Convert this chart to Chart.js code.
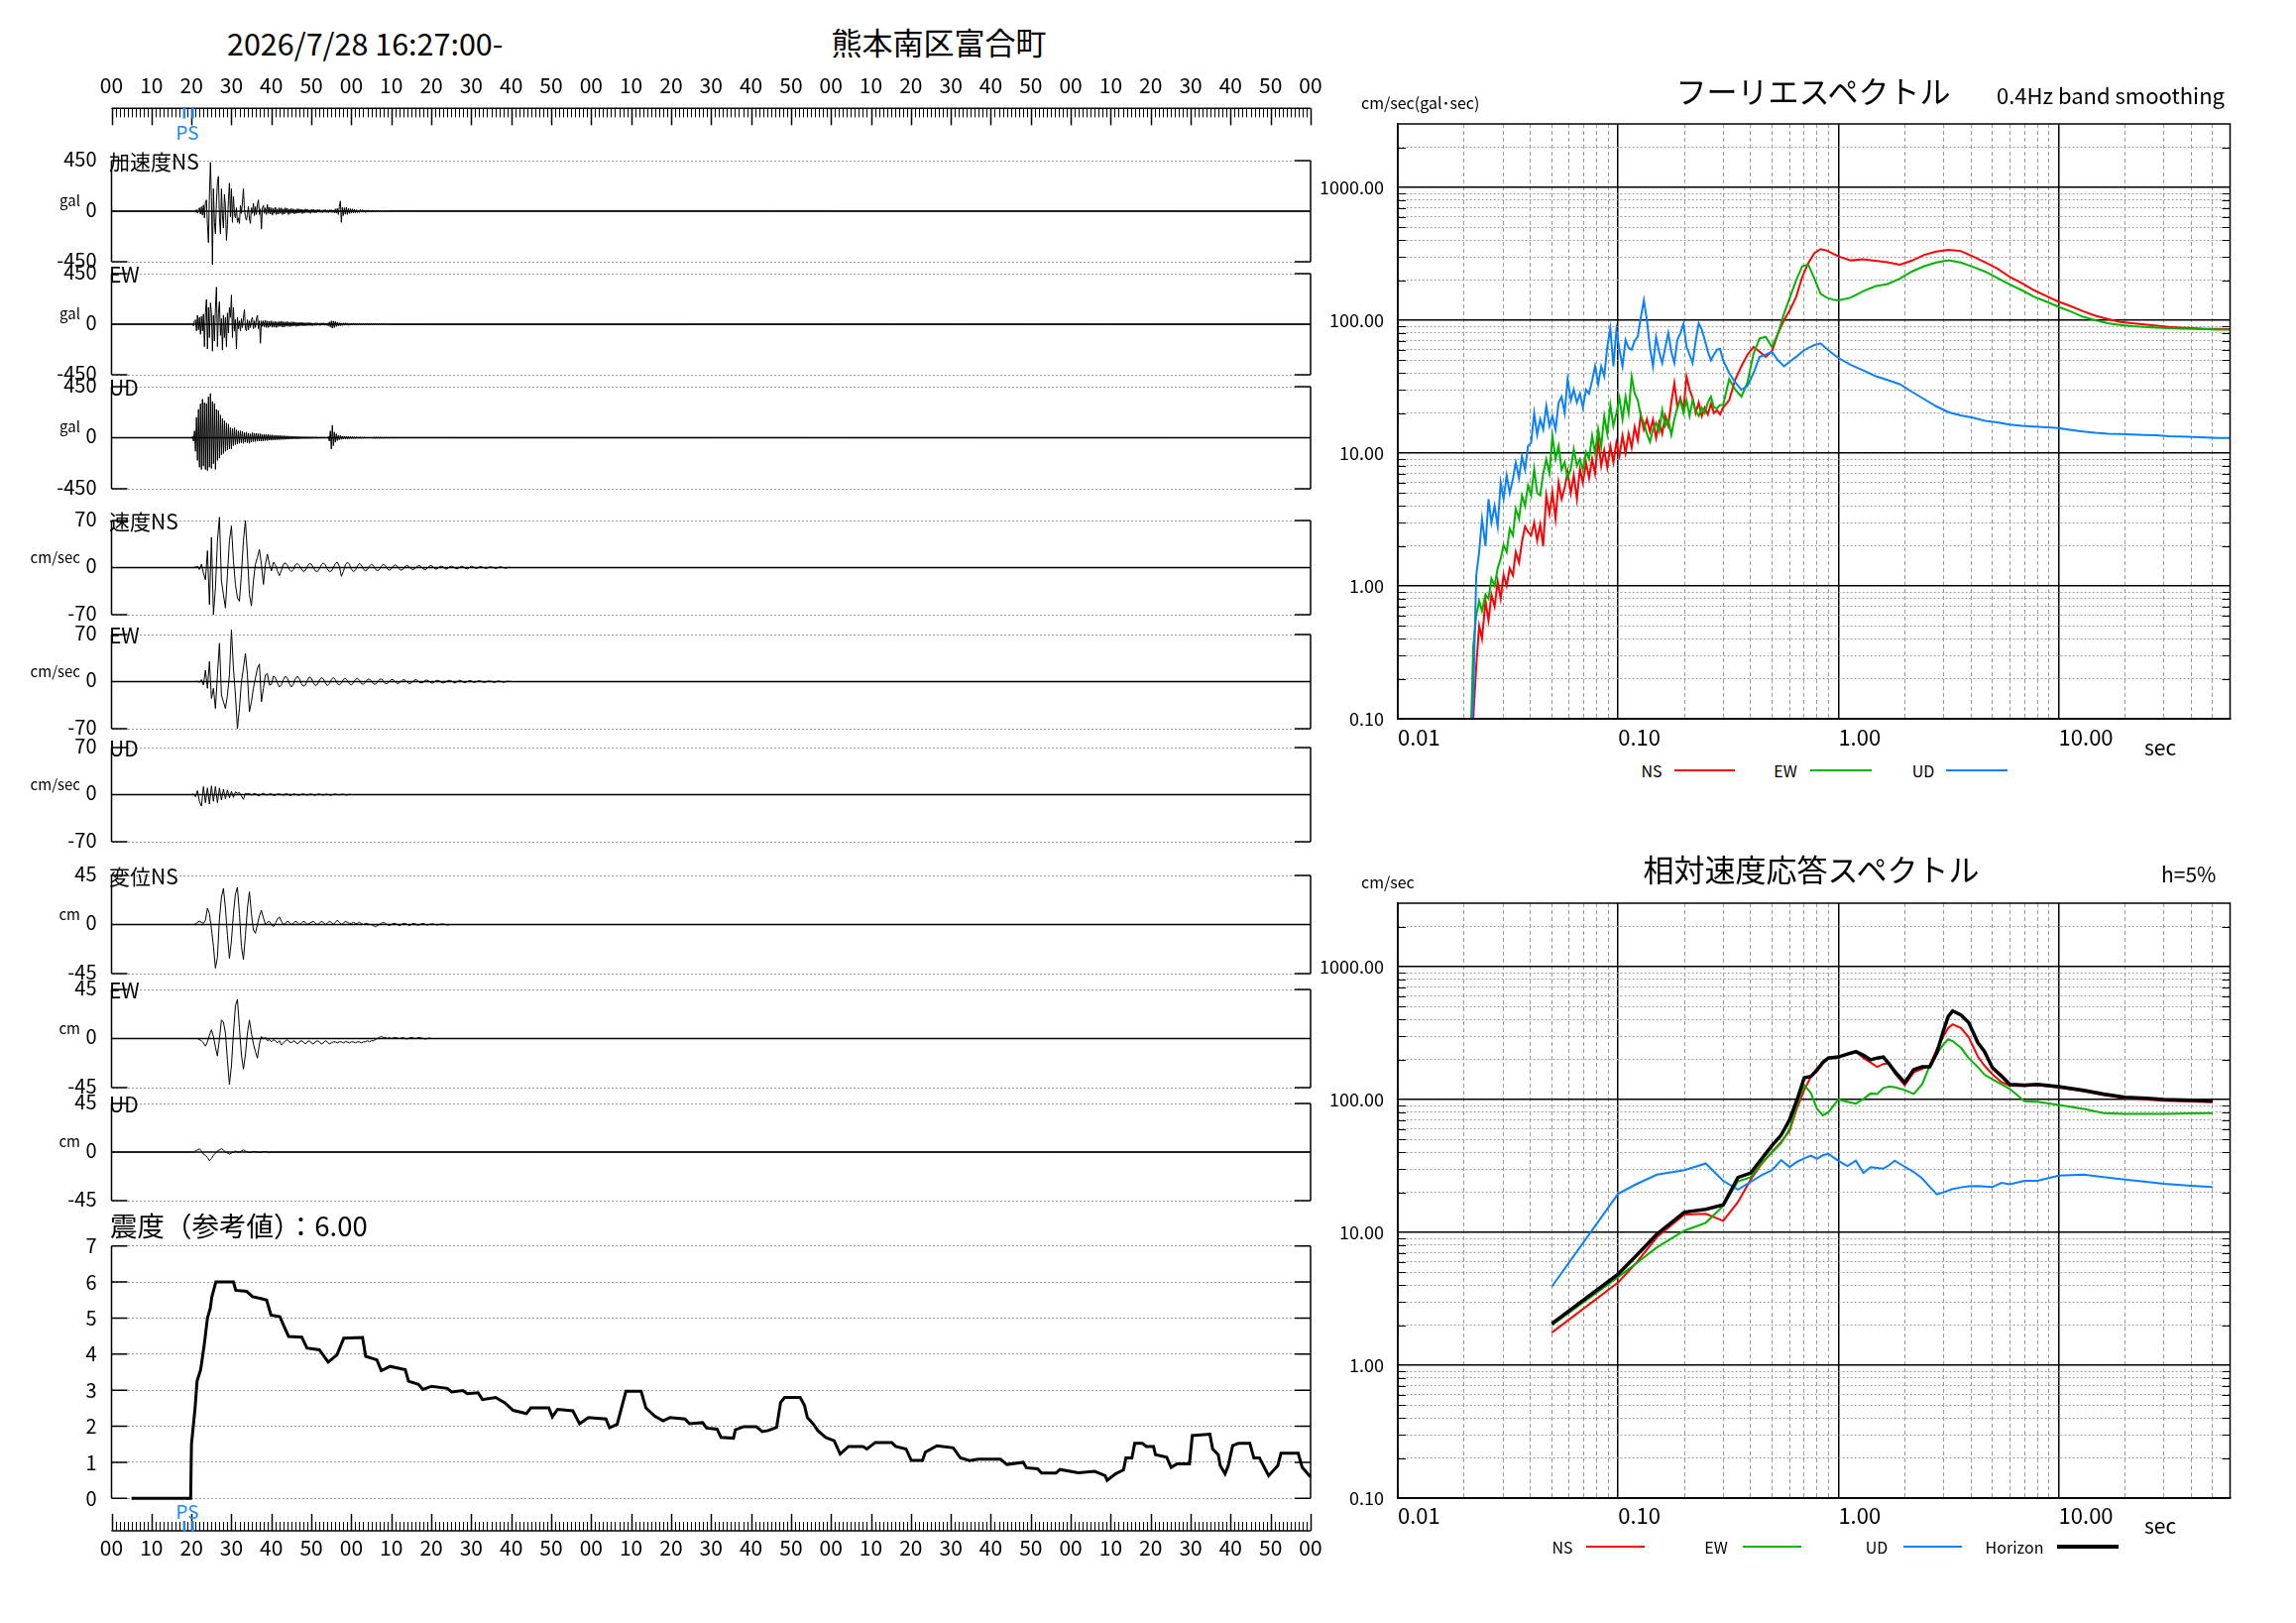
<!DOCTYPE html>
<html>
<head>
<meta charset="utf-8">
<script src="https://cdn.jsdelivr.net/npm/chart.js@4.4.1/dist/chart.umd.min.js"></script>
<style>
  html, body { margin: 0; padding: 0; background: #fff; }
  #page { position: relative; width: 2316px; height: 1637px; overflow: hidden;
          font-family: 'Noto Sans CJK JP', 'Noto Sans', sans-serif; color: #000; }
  canvas { position: absolute; }
  .t { position: absolute; white-space: nowrap; line-height: 1; }
  .key { position: absolute; }
</style>
</head>
<body>
<div id="page"></div>
<script>
// ---- waveforms (acc: every 0.25 s from 19 s, vel/disp: every 0.5 s from 20 s) ----
const accStart = 19, accStep = 0.25;
const accNS = [
  0, 2, -2, 3,  -3, 2, -4, 5,  -10, 14, -18, 12,  30, -25, 40, -35,
  55, -60, 80, 100,  -120, -280, 150, 435,  120, -475, 200, -100,  -200, 80, 260, 310,
  -60, -200, 200, -40,  -150, 150, 40, -260,  -120, 100, 250, -50,  200, -100, 130, -20,
  -60, 30, -100, -60,  -110, 50, -20, 80,  200, 20, -50, -80,  -30, 40, -70, -110,
  30, -20, 70, -40,  40, -30, 60, 100,  -30, 20, -160, 30,  50, -20, 30, -30,
  60, -20, 35, -25,  30, -35, 25, -20,  35, -30, 20, -25,  30, -20, 28, -30,
  20, -25, 30, -15,  25, -30, 18, -22,  24, -18, 20, -25,  15, -20, 22, -18,
  20, -15, 18, -22,  15, -18, 20, -12,  18, -15, 12, -20,  15, -12, 18, -15,
  12, -15, 14, -10,  15, -12, 10, -14,  12, -10, 15, -12,  10, -14, 12, -10,
  14, -12, 10, -15,  20, -18, 25, -30,  40, 90, -100, 35,  -40, 30, -25, 35,
  -30, 25, -20, 22,  -18, 20, -15, 18,  -15, 12, -14, 10,  -12, 14, -10, 12,
  -10, 8, -12, 10,  -8, 10, -9, 7,  -8, 6, -7, 8,  -6, 7, -5, 6,
  -6, 5, -6, 4,  -4, 5, -4, 3,  -3, 4, -3, 2
];
const accEW = [
  0, 2, -2, 3,  -3, 5, -15, 30,  40, -60, 80, -50,  60, -90, 70, -60,
  90, -200, 100, 220,  -220, 150, -120, 190,  100, -240, 80, -150,  150, 330, -200, 100,
  200, -100, 50, -230,  80, -120, 60, -200,  100, -80, 150, 60,  260, -120, 150, -60,
  40, -220, 60, -40,  30, -60, 50, -30,  60, 130, -40, -60,  40, -50, 30, -30,
  40, 60, -40, 30,  -30, 50, 80, -40,  30, -170, 30, -20,  30, -25, 35, -30,
  28, -30, 25, -20,  30, -28, 22, -25,  26, -30, 20, -22,  25, -20, 28, -26,
  22, -25, 20, -18,  24, -20, 18, -22,  20, -18, 22, -16,  18, -20, 15, -18,
  16, -14, 18, -15,  15, -16, 12, -14,  14, -12, 15, -13,  12, -14, 10, -12,
  13, -11, 12, -10,  10, -12, 11, -9,  12, -10, 9, -11,  10, -15, 20, -25,
  30, -35, 28, -30,  25, -20, 18, -15,  12, -14, 10, -12,  11, -10, 12, -9,
  10, -11, 8, -10,  9, -8, 10, -7,  8, -9, 7, -8,  7, -8, 6, -7,
  6, -7, 6, -5,  6, -5, 7, -5,  5, -6, 4, -5,  5, -4, 5, -4,
  4, -5, 3, -4,  4, -3, 4, -3,  3, -3, 2, -2
];
const accUD = [
  0, 2, -2, 3,  -5, 10, -30, 60,  -120, 180, -200, 250,  -260, 300, -280, 340,
  -250, 310, -280, 300,  -290, 360, -260, 390,  -270, 320, -230, 300,  -280, 250, -200, 240,
  -180, 200, -150, 170,  -140, 150, -120, 130,  -110, 120, -100, 90,  -100, 80, -70, 90,
  -60, 70, -55, 60,  -50, 60, -45, 55,  -50, 45, -40, 50,  -45, 40, -50, 35,
  -40, 45, -35, 40,  -35, 40, -30, 35,  -30, 35, -30, 28,  -28, 30, -25, 28,
  -25, 28, -22, 25,  -22, 25, -20, 22,  -20, 22, -18, 20,  -18, 20, -16, 18,
  -16, 18, -15, 16,  -14, 15, -12, 14,  -12, 14, -10, 12,  -10, 12, -10, 10,
  -9, 10, -8, 9,  -8, 9, -8, 8,  -7, 8, -7, 8,  -7, 8, -6, 7,
  -6, 7, -6, 6,  -6, 6, -5, 6,  -5, 6, -5, 5,  -5, 10, -30, 60,
  -100, 110, -70, 50,  -40, 35, -25, 20,  -18, 20, -15, 14,  -12, 14, -10, 12,
  -10, 12, -9, 10,  -8, 9, -7, 8,  -7, 8, -6, 7,  -6, 7, -6, 6,
  -5, 6, -5, 5,  -5, 5, -4, 5,  -4, 5, -4, 4,  -4, 4, -3, 4,
  -3, 4, -3, 3,  -3, 3, -2, 3,  -2, 2, -2, 1
];

const motionStart = 20, motionStep = 0.5;
const velNS = [
  0, 0, 0.5, 2, -3, 5, -8, -18, 25, -55,
  45, -70, -30, 40, 75, -20, -40, -60, -10, 40,
  62, 10, -25, -45, -50, -10, 40, 70, 20, -40,
  -57, -20, 5, 15, 27, 5, -25, 5, 20, 5,
  -5, 8, 4, -5, -12, -4, 5, 7, 3, -3,
  -6, -3, 4, 6, 3, -2, -6, -4, 2, 6,
  5, 0, -5, -6, -2, 4, 7, 4, -2, -6,
  -5, 0, 6, 8, 2, -13, -6, 4, 8, 5,
  -2, -6, -4, 2, 6, 4, -2, -5, -3, 2,
  5, 3, -2, -5, -3, 2, 5, 3, -2, -4,
  -2, 2, 4, 2, -2, -4, -2, 2, 3, 1,
  -2, -3, -1, 2, 3, 1, -2, -3, -1, 2,
  3, 1, -2, -2, 1, 2, 1, -2, -2, 1,
  2, 1, -1, -2, 0, 2, 1, -1, -2, 0,
  2, 1, -1, -1, 1, 1.5, 0, -1, -1, 1,
  1, 0, -1, -1, 1, 1, 0, -1, -0.5, 0.5,
  0
];
const velEW = [
  0, 0, 0, 0.5, -1, 3, -5, 17, -10, 30,
  -25, -10, -40, 10, 57, -20, -30, -40, -20, 10,
  77, 20, -20, -70, -40, 0, 20, 42, 10, -45,
  -30, -10, 5, 20, 26, -30, -10, 10, 12, -5,
  -4, 8, 6, -2, -8, -5, 3, 8, 5, -3,
  -8, -4, 4, 8, 4, -3, -7, -5, 2, 7,
  5, -2, -6, -4, 2, 6, 4, -2, -6, -3,
  3, 6, 3, -3, -5, -2, 3, 5, 2, -3,
  -5, -2, 3, 5, 2, -3, -4, -1, 3, 4,
  1, -3, -4, -1, 3, 4, 1, -3, -3, 0,
  3, 3, 0, -3, -2, 1, 3, 2, -1, -3,
  -2, 1, 3, 2, -1, -2, -1, 2, 2, 0,
  -2, -2, 1, 2, 1, -1, -2, -1, 1, 2,
  1, -1, -2, 0, 2, 1, -1, -1.5, 0, 1.5,
  1, -1, -1, 0.5, 1.5, 0.5, -1, -1, 0.5, 1,
  0.5, -1, -1, 0.5, 1, 0, -1, -0.5, 0.5, 0.5,
  0
];
const velUD = [
  0, 1, -3, 6, -10, -17, 12, -12, 10, -14,
  13, -10, 12, -12, 10, -8, 8, -6, 7, -5,
  5, -4, 4, 2, 3, -2, -7, 2, 1, 2,
  -1, 1, 2, -1, -2, 1, 2, 0, -1, 1,
  1, -1, -1, 1, 1, 0, -1, 1, 1, -1,
  -1, 1, 0.5, -0.5, -1, 0.5, 1, 0, -1, 0.5,
  1, -0.5, -1, 0.5, 1, 0, -1, 0.5, 0.5, -0.5,
  -1, 0.5, 1, 0, -0.5, 0.5, 0.5, -0.5, -0.5, 0.5,
  0
];
const dispNS = [
  0, 0, 0.5, 2, 3, 2, 1, 4, 15, 10,
  -4, -20, -40, -30, 5, 25, 33, 15, -10, -31,
  -15, 10, 28, 34, 10, -20, -32, -10, 15, 30,
  10, -5, -8, 0, 8, 13, 6, 0, 2, 3,
  0, -2, 1, 5, 7, 3, 0, 1, 3, 2,
  0, 1, 3, 2, 0, 1, 3, 2, 0, 1,
  2, 3, 1, 0, 1, 3, 2, 0, 1, 3,
  2, 0, 2, 4, 2, 0, 1, 3, 2, 1,
  1, 2, 1, 1, 2, 1, 0, 1, 1, 0,
  0, -1, -2, -1, 0, 1, 2, 1, 0, -1,
  0, 1, 1, 0, -1, 0, 1, 1, 0, -1,
  0, 1, 0.5, -0.5, -0.5, 0.5, 1, 0, -0.5, 0,
  0.5, 0.5, 0, -0.5, 0, 0.5, 0.5, 0, -0.5, 0,
  0
];
const dispEW = [
  0, 0, 0, 0, -1, -2, -4, -7, -3, 3,
  8, 2, -8, -16, 0, 17, 15, 5, -20, -42,
  -25, 5, 30, 36, 10, -15, -28, -15, 5, 17,
  5, -5, -12, -18, -5, 2, 0, 1, -2, -1,
  -3, -1, -2, -4, -2, -6, -4, -2, -1, -3,
  -4, -2, -3, -5, -3, -2, -3, -5, -3, -2,
  -4, -5, -3, -2, -3, -5, -4, -2, -3, -5,
  -4, -3, -3, -4, -3, -3, -4, -3, -3, -4,
  -3, -3, -4, -3, -3, -4, -3, -3, -2, -3,
  -2, -2, -1, 0, 1, 2, 1, 1, 0, 1,
  0, 0.5, 1, 0.5, 0, 0.5, 1, 0, -0.5, 0.5,
  1, 0.5, 0, 0.5, 1, 0.5, 0, -0.5, 0, 0.5,
  0
];
const dispUD = [
  0, 0, 1, 2, 3, 1, -2, -3, -5, -8,
  -6, -3, -1, 1, 2, 3, 2, 0, -1, -2,
  -1, 0, 1, 0, 0, 1, 2, 1, 0, -0.5,
  0, 0.5, 0.5, 0, -0.5, 0, 0.5, 0.5, 0, -0.5,
  0
];
const psTimes = [18.2, 20.3];

// ---- seismic intensity (reference value) over time ----
const intTime = [
  5, 19.8, 20.0, 20.9, 21.4, 22.3, 23.2, 24.0, 24.7, 25.1,
  26.1, 30.5, 31.1, 33.8, 35.3, 37.1, 38.8, 39.9, 42.1, 43.2,
  44.3, 47.6, 48.9, 52.0, 54.2, 56.4, 58.1, 62.8, 63.6, 66.4,
  67.5, 69.7, 73.5, 74.3, 76.8, 77.9, 80.1, 84.0, 85.1, 87.9,
  89.0, 91.7, 92.8, 96.1, 98.4, 100.5, 103.8, 104.9, 109.4, 110.3,
  111.6, 115.4, 117.1, 119.3, 123.7, 124.6, 126.5, 128.7, 132.5, 133.7,
  135.9, 138.0, 139.7, 143.5, 144.6, 147.9, 148.9, 151.5, 152.5, 155.6,
  156.1, 158.2, 161.3, 162.8, 164.3, 166.4, 167.4, 168.4, 172.3, 173.4,
  174.1, 175.6, 176.7, 178.7, 180.8, 182.3, 184.4, 188.0, 189.0, 191.1,
  195.2, 196.2, 198.8, 200.1, 202.9, 203.6, 206.5, 210.6, 212.4, 214.7,
  216.8, 222.4, 224.0, 228.1, 228.9, 231.7, 232.7, 236.3, 237.3, 241.9,
  246.0, 248.6, 249.1, 251.2, 253.2, 253.8, 255.3, 256.0, 257.9, 258.9,
  260.7, 261.2, 264.0, 265.1, 266.6, 269.7, 270.4, 274.8, 275.5, 276.9,
  277.4, 278.6, 279.4, 280.5, 282.0, 284.8, 285.8, 287.2, 289.5, 291.8,
  292.6, 296.9, 297.9, 300
];
const intValue = [
  0, 0, 1.5, 2.5, 3.25, 3.57, 4.26, 5.0, 5.27, 5.59,
  6.0, 6.0, 5.77, 5.74, 5.59, 5.55, 5.5, 5.08, 5.04, 4.76,
  4.49, 4.47, 4.17, 4.12, 3.78, 3.98, 4.44, 4.46, 3.94, 3.84,
  3.54, 3.66, 3.57, 3.25, 3.16, 3.02, 3.11, 3.05, 2.95, 2.99,
  2.9, 2.93, 2.74, 2.8, 2.65, 2.44, 2.35, 2.51, 2.51, 2.26,
  2.47, 2.43, 2.07, 2.24, 2.2, 1.96, 2.05, 2.97, 2.97, 2.51,
  2.28, 2.15, 2.24, 2.2, 2.07, 2.1, 1.95, 1.92, 1.69, 1.67,
  1.9, 1.99, 1.99, 1.85, 1.88, 1.97, 2.66, 2.8, 2.8, 2.57,
  2.24, 2.06, 1.88, 1.69, 1.6, 1.23, 1.44, 1.44, 1.37, 1.55,
  1.55, 1.44, 1.37, 1.05, 1.05, 1.28, 1.46, 1.4, 1.12, 1.05,
  1.09, 1.09, 0.94, 1.0, 0.85, 0.82, 0.7, 0.7, 0.8, 0.71,
  0.75, 0.63, 0.5, 0.68, 0.79, 1.12, 1.12, 1.53, 1.53, 1.44,
  1.44, 1.21, 1.14, 0.86, 0.96, 0.96, 1.74, 1.78, 1.37, 1.21,
  0.91, 0.68, 0.91, 1.46, 1.53, 1.53, 1.12, 1.12, 0.63, 0.91,
  1.25, 1.25, 0.86, 0.59
];

// ---- Fourier spectrum (period sec, cm/sec) ----
const fsPeriod = [
  0.0213, 0.0220, 0.0227, 0.0234, 0.0241, 0.0250, 0.0258, 0.0266, 0.0275, 0.0284,
  0.0293, 0.0302, 0.0312, 0.0322, 0.0333, 0.0343, 0.0355, 0.0366, 0.0378, 0.0390,
  0.0403, 0.0416, 0.0429, 0.0443, 0.0457, 0.0472, 0.0488, 0.0503, 0.0520, 0.0537,
  0.0554, 0.0572, 0.0590, 0.0610, 0.0629, 0.0650, 0.0671, 0.0692, 0.0715, 0.0738,
  0.0762, 0.0786, 0.0812, 0.0838, 0.0865, 0.0893, 0.0922, 0.0952, 0.0982, 0.1014,
  0.1047, 0.1081, 0.1116, 0.1152, 0.1189, 0.1228, 0.1268, 0.1309, 0.1351, 0.1395,
  0.1440, 0.1487, 0.1535, 0.1585, 0.1636, 0.1689, 0.1744, 0.1800, 0.1858, 0.1918,
  0.1980, 0.2045, 0.2111, 0.2179, 0.2250, 0.2322, 0.2397, 0.2475, 0.2555, 0.2638,
  0.2723, 0.2811, 0.2902, 0.2996, 0.3193, 0.3403, 0.3627, 0.3865, 0.4119, 0.4390,
  0.4679, 0.4987, 0.5314, 0.5664, 0.6036, 0.6433, 0.6856, 0.7306, 0.7787, 0.8298,
  0.8844, 0.9425, 1.00, 1.14, 1.29, 1.47, 1.67, 1.90, 2.15, 2.45,
  2.78, 3.16, 3.59, 4.08, 4.64, 5.27, 5.99, 6.81, 7.74, 8.80,
  10.0, 11.4, 12.9, 14.7, 16.7, 19.0, 21.5, 24.5, 27.8, 31.6,
  35.9, 40.8, 46.4, 52.7, 60.0
];
const fsNS = [
  0.05, 0.1, 0.25, 0.5, 0.4, 0.77, 0.55, 0.86, 0.7, 1.08,
  0.8, 1.21, 1.0, 1.36, 1.2, 1.8, 1.5, 2.15, 2.8, 2.55,
  2.4, 3.0, 2.2, 2.9, 2.0, 4.8, 3.5, 5.1, 3.2, 6.0,
  4.5, 5.5, 7.2, 5.0, 6.8, 4.5, 7.6, 6.0, 8.5, 6.5,
  9.0, 7.0, 12.7, 8.0, 10.5, 7.8, 11.3, 8.5, 12.0, 9.5,
  13.5, 10.0, 14.0, 11.0, 15.7, 12.5, 19.5, 15.0, 18.0, 14.5,
  17.8, 13.0, 17.0, 14.0, 19.0, 16.0, 24.0, 33.6, 22.0, 26.0,
  21.0, 37.6, 30.0, 26.0, 20.0, 24.0, 19.0, 22.0, 19.5, 23.5,
  20.0, 21.0, 19.5, 22.0, 25.0, 35.8, 45.0, 55.0, 63.0, 58.0,
  53.0, 58.0, 79.0, 100, 120, 150, 212, 270, 320, 343,
  335, 318, 302, 282, 287, 280, 273, 262, 280, 310,
  328, 339, 332, 302, 272, 245, 212, 190, 168, 152,
  138, 127, 117, 108, 102, 97, 95, 93, 91, 89,
  88, 87, 86, 86, 85.5
];
const fsEW = [
  0.05, 0.35, 0.6, 0.77, 0.65, 0.86, 0.8, 1.14, 1.0, 1.36,
  1.6, 2.03, 1.8, 2.7, 2.4, 3.8, 3.2, 4.8, 4.0, 5.7,
  4.8, 7.6, 5.0, 4.8, 7.0, 9.0, 7.0, 13.5, 9.0, 11.3,
  7.5, 8.5, 6.5, 7.6, 10.7, 8.0, 9.0, 7.5, 10.2, 9.0,
  13.5, 10.0, 15.1, 11.2, 19.0, 14.0, 23.0, 16.0, 20.0, 26.0,
  18.0, 26.6, 20.0, 37.6, 28.0, 25.0, 19.0, 16.9, 14.0, 12.1,
  15.0, 16.9, 14.5, 21.0, 16.0, 17.8, 13.7, 18.0, 22.0, 25.0,
  20.0, 25.0, 19.0, 25.0, 21.0, 19.0, 22.0, 20.0, 24.0, 26.6,
  22.0, 21.7, 23.0, 23.0, 36.0, 30.0, 26.6, 34.0, 56.0, 73.0,
  75.0, 63.0, 79.0, 112, 150, 200, 255, 262, 205, 158,
  148, 143, 141, 148, 165, 180, 187, 205, 232, 255,
  272, 283, 272, 252, 232, 208, 186, 168, 150, 138,
  126, 116, 106, 100, 95, 92, 90, 89, 88, 87,
  86.5, 86, 85.5, 85, 85
];
const fsUD = [
  0.05, 0.15, 1.2, 1.8, 3.2, 2.0, 4.5, 3.0, 4.0, 2.8,
  6.0, 4.5, 6.8, 5.0, 6.4, 8.5, 6.5, 9.5, 7.5, 11.3,
  12.0, 20.0, 13.7, 18.0, 15.0, 22.6, 16.0, 19.0, 15.0, 24.0,
  26.6, 20.0, 36.0, 25.0, 30.0, 24.0, 28.0, 22.0, 30.0, 28.0,
  35.0, 45.0, 33.0, 45.0, 38.0, 63.0, 86.5, 45.0, 84.0, 60.0,
  45.0, 71.0, 62.0, 60.0, 70.0, 75.0, 105, 141, 100, 62.0,
  45.0, 75.0, 58.0, 47.6, 62.0, 80.0, 58.0, 47.6, 71.0, 80.0,
  94.0, 63.0, 55.0, 47.6, 70.0, 95.0, 85.0, 71.0, 58.0, 50.0,
  55.0, 60.0, 61.0, 50.0, 40.0, 34.0, 30.0, 32.0, 40.0, 53.0,
  55.0, 58.0, 50.0, 45.0, 49.0, 53.0, 58.0, 62.0, 65.0, 67.0,
  61.0, 56.0, 52.0, 46.0, 42.0, 38.0, 35.5, 33.0, 29.0, 25.5,
  22.5, 20.3, 19.2, 18.5, 17.5, 17.0, 16.4, 16.0, 15.8, 15.6,
  15.4, 14.9, 14.5, 14.2, 14.0, 13.9, 13.8, 13.7, 13.6, 13.4,
  13.3, 13.2, 13.1, 13.0, 13.0
];

// ---- relative velocity response spectrum, h=5% (period sec, cm/sec) ----
const rsPeriod = [
  0.05, 0.1, 0.12, 0.15, 0.2, 0.25, 0.3, 0.35, 0.4, 0.45,
  0.5, 0.55, 0.6, 0.65, 0.7, 0.75, 0.8, 0.85, 0.9, 1.0,
  1.1, 1.2, 1.3, 1.4, 1.5, 1.6, 1.7, 1.8, 2.0, 2.2,
  2.4, 2.6, 2.8, 3.0, 3.15, 3.3, 3.6, 3.9, 4.3, 4.6,
  5.0, 5.5, 6.0, 7.0, 8.0, 10, 13, 16, 20, 25,
  30, 40, 50
];
const rsNS = [
  1.76, 4.2, 5.8, 9.2, 13.6, 13.8, 12.2, 16.9, 25.0, 33.0,
  40.5, 48.0, 58.0, 87.0, 118, 148, 172, 190, 203, 209,
  220, 229, 205, 190, 176, 185, 188, 158, 128, 160,
  170, 180, 240, 300, 345, 368, 345, 295, 210, 180,
  155, 135, 127, 126, 128, 123, 115, 108, 102, 100,
  98, 96.5, 95.5
];
const rsEW = [
  2.0, 4.6, 5.8, 7.7, 10.3, 11.8, 15.8, 24.2, 26.0, 33.5,
  40.0, 47.0, 60.0, 92.0, 128, 112, 85.0, 76.0, 80.0, 100,
  96.0, 93.0, 101, 111, 110, 122, 125, 124, 118, 110,
  130, 180, 222, 260, 284, 275, 245, 205, 175, 154,
  142, 130, 120, 97.0, 96.0, 91.0, 85.0, 79.0, 78.0, 78.0,
  78.0, 78.5, 79.0
];
const rsUD = [
  3.9, 19.5, 22.9, 27.2, 29.4, 33.0, 24.4, 21.0, 24.0, 27.0,
  29.4, 35.0, 31.0, 34.0, 36.0, 37.8, 35.8, 38.0, 39.0, 34.5,
  31.6, 34.6, 28.0, 30.9, 30.5, 30.2, 32.0, 34.6, 31.2, 28.5,
  25.5, 22.0, 19.3, 20.0, 20.6, 21.2, 21.8, 22.2, 22.3, 22.1,
  21.9, 23.6, 23.0, 24.4, 24.4, 26.7, 27.2, 26.0, 25.0, 24.0,
  23.2, 22.4, 21.9
];
const rsHorizon = [
  2.05, 4.85, 6.6, 9.7, 14.2, 14.9, 16.1, 25.9, 28.0, 36.0,
  45.0, 54.0, 70.0, 100, 146, 149, 166, 190, 205, 209,
  220, 229, 215, 199, 205, 209, 185, 163, 134, 168,
  176, 176, 225, 330, 420, 464, 432, 380, 267, 230,
  174, 150, 130, 128, 130, 125, 117, 110, 104, 102,
  100, 98.5, 97.4
];

// axis tick values for the log plots
const periodTicks = [0.01, 0.02, 0.03, 0.04, 0.05, 0.06, 0.07, 0.08, 0.09,
  0.1, 0.2, 0.3, 0.4, 0.5, 0.6, 0.7, 0.8, 0.9, 1, 2, 3, 4, 5, 6, 7, 8, 9,
  10, 20, 30, 40, 50];
const ampTicks = [0.1, 0.2, 0.3, 0.4, 0.5, 0.6, 0.7, 0.8, 0.9, 1, 2, 3, 4, 5, 6, 7, 8, 9,
  10, 20, 30, 40, 50, 60, 70, 80, 90, 100, 200, 300, 400, 500, 600, 700, 800, 900,
  1000, 2000];

const RED = '#ff0000', GREEN = '#00b400', BLUE = '#0a80ff', PSBLUE = '#1a88ff';

// ------------------------------------------------------------------
const page = document.getElementById('page');
Chart.defaults.font.family = "'Noto Sans CJK JP', 'Noto Sans', sans-serif";
Chart.defaults.color = '#000';

const isDecade = v => Math.abs(Math.log10(v) - Math.round(Math.log10(v))) < 1e-6;
const secLabel = v => String(Math.round(v) % 60).padStart(2, '0');

// fixed axis sizes, no extra label padding pushed onto the chart area
const fixWidth = w => s => { s.width = w; s.paddingTop = 0; s.paddingBottom = 0; };
const fixHeight = h => s => { s.height = h; s.paddingLeft = 0; s.paddingRight = 0; };

function text(str, x, y, size, align, color) {
  const d = document.createElement('div');
  d.className = 't';
  d.textContent = str;
  d.style.left = x + 'px';
  d.style.top = y + 'px';
  d.style.fontSize = size + 'px';
  const tx = align === 'center' ? '-50%' : align === 'right' ? '-100%' : '0';
  d.style.transform = 'translate(' + tx + ', -50%)';
  if (color) d.style.color = color;
  page.appendChild(d);
}

function key(x1, x2, y, color, w) {
  const d = document.createElement('div');
  d.className = 'key';
  d.style.left = x1 + 'px';
  d.style.width = (x2 - x1) + 'px';
  d.style.top = (y - w / 2) + 'px';
  d.style.height = w + 'px';
  d.style.background = color;
  page.appendChild(d);
}

function addCanvas(x, y, w, h) {
  const c = document.createElement('canvas');
  c.width = w; c.height = h;
  c.style.left = x + 'px'; c.style.top = y + 'px';
  c.style.width = w + 'px'; c.style.height = h + 'px';
  page.appendChild(c);
  return c;
}

// box edges with short solid ticks at every y tick
const panelFrame = {
  id: 'panelFrame',
  afterDraw(chart, args, o) {
    const { ctx, chartArea: a, scales: { y } } = chart;
    ctx.save();
    ctx.strokeStyle = '#000';
    ctx.lineWidth = 1.5;
    ctx.beginPath();
    ctx.moveTo(a.left, a.top); ctx.lineTo(a.left, a.bottom);
    ctx.moveTo(a.right, a.top); ctx.lineTo(a.right, a.bottom);
    y.ticks.forEach(t => {
      if (o.skipZero && t.value === 0) return;
      const py = y.getPixelForValue(t.value);
      ctx.moveTo(a.left, py); ctx.lineTo(a.left + o.len, py);
      ctx.moveTo(a.right - o.len, py); ctx.lineTo(a.right, py);
    });
    ctx.stroke();
    ctx.restore();
  }
};

// second ruler along the time axis plus P/S marks
const ruler = {
  id: 'ruler',
  afterDraw(chart, args, o) {
    const ctx = chart.ctx, x = chart.scales.x;
    ctx.save();
    ctx.strokeStyle = '#000';
    ctx.lineWidth = 1.5;
    ctx.beginPath();
    ctx.moveTo(x.left, o.base); ctx.lineTo(x.right, o.base);
    ctx.stroke();
    for (let s = 0; s <= 300; s++) {
      const major = s % 10 === 0;
      const px = Math.round(x.getPixelForValue(s)) + 0.5;
      ctx.lineWidth = major ? 1.5 : 1;
      ctx.beginPath();
      ctx.moveTo(px, o.base);
      ctx.lineTo(px, o.base + o.dir * (major ? 17 : 9));
      ctx.stroke();
    }
    ctx.strokeStyle = PSBLUE;
    ctx.lineWidth = 2.5;
    psTimes.forEach(t => {
      const px = x.getPixelForValue(t);
      ctx.beginPath();
      ctx.moveTo(px, o.psFrom); ctx.lineTo(px, o.psTo);
      ctx.stroke();
    });
    ctx.restore();
  }
};

const specFrame = {
  id: 'specFrame',
  afterDraw(chart, args, o) {
    const { ctx, chartArea: a, scales: { y } } = chart;
    ctx.save();
    ctx.strokeStyle = '#000';
    ctx.lineWidth = 1.5;
    ctx.strokeRect(a.left, a.top, a.right - a.left, a.bottom - a.top);
    ctx.lineWidth = 1.2;
    ctx.beginPath();
    y.ticks.forEach(t => {
      if (isDecade(t.value)) return;
      const py = Math.round(y.getPixelForValue(t.value)) + 0.5;
      ctx.moveTo(a.left, py); ctx.lineTo(a.left + o.len, py);
      ctx.moveTo(a.right - o.len, py); ctx.lineTo(a.right, py);
    });
    ctx.stroke();
    ctx.restore();
  }
};

// ---------------- left column ----------------
const LEFT_W = 1345, AXIS_L = 112.5, PAD_R = 23;

text('2026/7/28 16:27:00-', 229, 43, 30.5, 'left');
text('熊本南区富合町', 947, 41, 31, 'center');

// top time ruler
(function () {
  const top = 55;
  const cv = addCanvas(0, top, LEFT_W, 80);
  new Chart(cv, {
    type: 'line',
    data: { datasets: [] },
    options: {
      responsive: false, animation: false,
      layout: { padding: { left: AXIS_L, right: PAD_R, top: 0, bottom: 0 } },
      scales: {
        x: {
          type: 'linear', position: 'top', min: 0, max: 300,
          afterFit: fixHeight(109.3 - top),
          ticks: { stepSize: 10, autoSkip: false, maxRotation: 0, padding: 11,
                   font: { size: 21 }, callback: secLabel },
          grid: { display: false, drawTicks: false },
          border: { display: false }
        },
        y: { display: false, min: 0, max: 1 }
      },
      plugins: { legend: { display: false }, tooltip: { enabled: false },
                 ruler: { base: 109.3 - top, dir: 1, psFrom: 108 - top, psTo: 119.5 - top } }
    },
    plugins: [ruler]
  });
  text('PS', 189, 132, 19, 'center', PSBLUE);
})();

const panels = [
  { top: 161.7, bottom: 264, max: 450, start: accStart, step: accStep, values: accNS, name: '加速度NS', unit: 'gal' },
  { top: 276, bottom: 378.3, max: 450, start: accStart, step: accStep, values: accEW, name: 'EW', unit: 'gal' },
  { top: 390, bottom: 492.7, max: 450, start: accStart, step: accStep, values: accUD, name: 'UD', unit: 'gal' },
  { top: 525, bottom: 620, max: 70, start: motionStart, step: motionStep, values: velNS, name: '速度NS', unit: 'cm/sec' },
  { top: 640, bottom: 735, max: 70, start: motionStart, step: motionStep, values: velEW, name: 'EW', unit: 'cm/sec' },
  { top: 754.3, bottom: 849.3, max: 70, start: motionStart, step: motionStep, values: velUD, name: 'UD', unit: 'cm/sec' },
  { top: 883.3, bottom: 982.3, max: 45, start: motionStart, step: motionStep, values: dispNS, name: '変位NS', unit: 'cm' },
  { top: 998.3, bottom: 1097.3, max: 45, start: motionStart, step: motionStep, values: dispEW, name: 'EW', unit: 'cm' },
  { top: 1112.7, bottom: 1210.7, max: 45, start: motionStart, step: motionStep, values: dispUD, name: 'UD', unit: 'cm' }
];

panels.forEach(p => {
  const pad = 14;
  const cv = addCanvas(0, p.top - pad, LEFT_W, Math.round(p.bottom - p.top) + 2 * pad);
  const wave = [{ x: 0, y: 0 }];
  p.values.forEach((v, i) => wave.push({ x: p.start + i * p.step, y: v }));
  wave.push({ x: 300, y: 0 });
  new Chart(cv, {
    type: 'line',
    data: {
      datasets: [
        { data: wave, borderColor: '#000', borderWidth: 1, pointRadius: 0, clip: 12, order: 0 },
        { data: [{ x: 0, y: 0 }, { x: 300, y: 0 }], borderColor: '#000', borderWidth: 1.5, pointRadius: 0, order: 1 }
      ]
    },
    options: {
      responsive: false, animation: false,
      layout: { padding: { left: 0, right: PAD_R, top: pad, bottom: pad } },
      scales: {
        x: { type: 'linear', min: 0, max: 300, display: false },
        y: {
          min: -p.max, max: p.max,
          afterFit: fixWidth(AXIS_L),
          afterBuildTicks: s => { s.ticks = [-p.max, 0, p.max].map(v => ({ value: v })); },
          ticks: { autoSkip: false, padding: 15, labelOffset: -2, font: { size: 20 }, callback: v => String(v) },
          grid: { drawTicks: false, lineWidth: 1,
                  color: c => (c.tick && c.tick.value !== 0) ? '#999' : 'rgba(0,0,0,0)' },
          border: { display: false, dash: [2, 2] }
        }
      },
      plugins: { legend: { display: false }, tooltip: { enabled: false },
                 panelFrame: { len: 16, skipZero: true } }
    },
    plugins: [panelFrame]
  });
  text(p.name, 110, p.top, 21, 'left');
  const zero = (p.top + p.bottom) / 2;
  text(p.unit, 81, zero - 12, 15, 'right');
});

// intensity chart with bottom ruler
(function () {
  const top = 1230, h = 1637 - top - 27;
  const cv = addCanvas(0, top, LEFT_W, h);
  new Chart(cv, {
    type: 'line',
    data: {
      datasets: [{
        data: intTime.map((t, i) => ({ x: t, y: intValue[i] })),
        borderColor: '#000', borderWidth: 3, pointRadius: 0, clip: 4
      }]
    },
    options: {
      responsive: false, animation: false,
      layout: { padding: { left: 0, right: PAD_R, top: 1256.7 - top, bottom: 0 } },
      scales: {
        x: {
          type: 'linear', min: 0, max: 300,
          afterFit: fixHeight((top + h) - 1511.3),
          ticks: { stepSize: 10, autoSkip: false, maxRotation: 0, padding: 37,
                   font: { size: 21 }, callback: secLabel },
          grid: { display: false, drawTicks: false },
          border: { display: false }
        },
        y: {
          min: 0, max: 7,
          afterFit: fixWidth(AXIS_L),
          afterBuildTicks: s => { s.ticks = [0, 1, 2, 3, 4, 5, 6, 7].map(v => ({ value: v })); },
          ticks: { autoSkip: false, padding: 15, font: { size: 20 } },
          grid: { drawTicks: false, color: '#999', lineWidth: 1 },
          border: { display: false, dash: [2, 2] }
        }
      },
      plugins: { legend: { display: false }, tooltip: { enabled: false },
                 panelFrame: { len: 16, skipZero: false },
                 ruler: { base: 1544 - top, dir: -1, psFrom: 1534 - top, psTo: 1545 - top } }
    },
    plugins: [panelFrame, ruler]
  });
  text('震度（参考値）：6.00', 111, 1236, 27.5, 'left');
  text('PS', 189, 1523, 19, 'center', PSBLUE);
})();

// ---------------- right column ----------------
function spectrum(plotTop, series, xPad) {
  const padTop = 20;
  const cv = addCanvas(1290, plotTop - padTop, 1026, 660);
  const major = c => c.tick && isDecade(c.tick.value);
  new Chart(cv, {
    type: 'line',
    data: {
      datasets: series.map(s => ({
        data: s.period.map((x, i) => ({ x: x, y: s.values[i] })),
        borderColor: s.color, borderWidth: s.width, pointRadius: 0, order: s.order
      }))
    },
    options: {
      responsive: false, animation: false,
      layout: { padding: { left: 0, right: 1026 - (2249.5 - 1290), top: padTop, bottom: 0 } },
      scales: {
        x: {
          type: 'logarithmic', min: 0.01, max: 60,
          afterFit: fixHeight(40),
          afterBuildTicks: s => { s.ticks = periodTicks.map(v => ({ value: v })); },
          ticks: { align: 'start', autoSkip: false, maxRotation: 0, padding: xPad, font: { size: 22 },
                   callback: v => isDecade(v) ? v.toFixed(2) : '' },
          grid: { drawTicks: false, color: c => major(c) ? '#000' : '#9a9a9a',
                  lineWidth: c => major(c) ? 1.5 : 1 },
          border: { color: '#000', width: 1.5, dash: c => (c.tick && !isDecade(c.tick.value)) ? [4, 3] : [] }
        },
        y: {
          type: 'logarithmic', min: 0.1, max: 3000,
          afterFit: fixWidth(1410 - 1290),
          afterBuildTicks: s => { s.ticks = ampTicks.map(v => ({ value: v })); },
          ticks: { autoSkip: false, padding: 14, font: { size: 18 },
                   callback: v => isDecade(v) ? v.toFixed(2) : '' },
          grid: { drawTicks: false, color: c => major(c) ? '#000' : '#9a9a9a',
                  lineWidth: c => major(c) ? 1.5 : 1 },
          border: { color: '#000', width: 1.5, dash: c => (c.tick && !isDecade(c.tick.value)) ? [2, 2] : [] }
        }
      },
      plugins: { legend: { display: false }, tooltip: { enabled: false }, specFrame: { len: 8 } }
    },
    plugins: [specFrame]
  });
}

// Fourier spectrum
spectrum(125, [
  { period: fsPeriod, values: fsNS, color: RED, width: 2, order: 2 },
  { period: fsPeriod, values: fsEW, color: GREEN, width: 2, order: 1 },
  { period: fsPeriod, values: fsUD, color: BLUE, width: 2, order: 0 }
], 5);
text('フーリエスペクトル', 1829, 90, 31, 'center');
text('0.4Hz band smoothing', 2014, 95, 22, 'left');
text('cm/sec(gal･sec)', 1373, 103, 16, 'left');
text('sec', 2163, 753, 21, 'left');
text('NS', 1666, 777, 16, 'center'); key(1689, 1750, 777, RED, 2.5);
text('EW', 1801, 777, 16, 'center'); key(1826, 1888, 777, GREEN, 2.5);
text('UD', 1940, 777, 16, 'center'); key(1963, 2025, 777, BLUE, 2.5);

// relative velocity response spectrum
spectrum(911, [
  { period: rsPeriod, values: rsNS, color: RED, width: 2, order: 3 },
  { period: rsPeriod, values: rsEW, color: GREEN, width: 2, order: 2 },
  { period: rsPeriod, values: rsUD, color: BLUE, width: 2, order: 1 },
  { period: rsPeriod, values: rsHorizon, color: '#000', width: 3.5, order: 0 }
], 4);
text('相対速度応答スペクトル', 1827, 875, 31, 'center');
text('h=5%', 2180, 881, 21, 'left');
text('cm/sec', 1373, 889, 16, 'left');
text('sec', 2163, 1538, 21, 'left');
text('NS', 1576, 1560, 16, 'center'); key(1600, 1659, 1560, RED, 2.5);
text('EW', 1731, 1560, 16, 'center'); key(1758, 1817, 1560, GREEN, 2.5);
text('UD', 1893, 1560, 16, 'center'); key(1920, 1979, 1560, BLUE, 2.5);
text('Horizon', 2032, 1560, 16, 'center'); key(2075, 2137, 1560, '#000', 3.5);
</script>
</body>
</html>
